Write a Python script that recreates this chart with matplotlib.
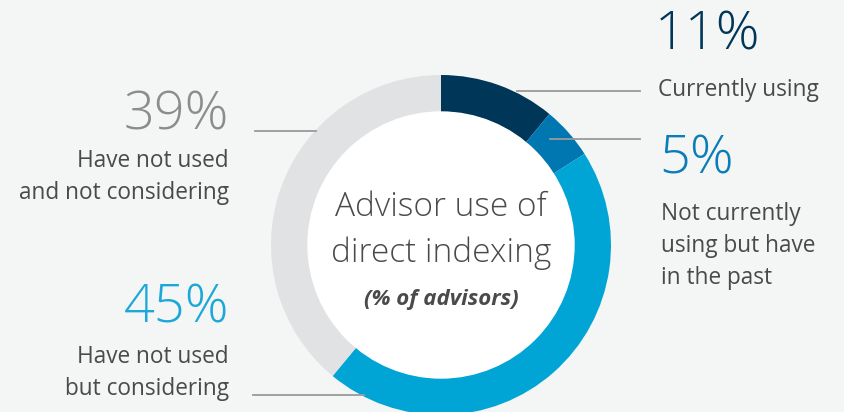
import matplotlib.pyplot as plt
from matplotlib.patches import Circle

# data
labels = ["Currently using", "Not currently\nusing but have\nin the past",
          "Have not used\nbut considering", "Have not used\nand not considering"]
shares = [11, 5, 45, 39]
colors = ["#003657", "#0077b0", "#00a5d6", "#e1e2e4"]
pct_colors = ["#003657", "#0a7cb8", "#1aa7d9", "#8c8c8c"]

W, H = 844, 412
bg = "#f4f5f5"
txt = "#4a4a4a"

fig = plt.figure(figsize=(W / 100, H / 100), dpi=100)
fig.patch.set_facecolor(bg)
ax = fig.add_axes([0, 0, 1, 1])
ax.set_facecolor(bg)

cx, cy = 441, H - 245
ax.pie(shares, colors=colors, startangle=90, counterclock=False,
       radius=170, center=(cx, cy), wedgeprops=dict(width=37, linewidth=0))
ax.add_patch(Circle((cx, cy), 133, color="white", zorder=3))

ax.set_xlim(0, W)
ax.set_ylim(0, H)
ax.set_aspect("equal")
ax.axis("off")


def y(p):
    return H - p


# leader lines
line_kw = dict(color="#9a9a9a", lw=1.3, zorder=1)
ax.plot([517, 640], [y(91), y(91)], **line_kw)
ax.plot([550, 640], [y(139), y(139)], **line_kw)
ax.plot([255, 316], [y(131), y(131)], **line_kw)
ax.plot([253, 364], [y(395), y(395)], **line_kw)

big = dict(fontsize=39, fontweight="light", family="Open Sans")
small = dict(fontsize=16.3, color=txt, family="Open Sans", linespacing=1.45)

# right side
ax.text(655, y(36), f"{shares[0]}%", color=pct_colors[0], ha="left", va="center", **big)
ax.text(658, y(90), labels[0], ha="left", va="center", **small)
ax.text(659, y(160), f"{shares[1]}%", color=pct_colors[1], ha="left", va="center", **big)
ax.text(661, y(246), labels[1], ha="left", va="center", **small)

# left side
ax.text(229, y(116), f"{shares[3]}%", color=pct_colors[3], ha="right", va="center", **big)
ax.text(229, y(177), labels[3], ha="right", va="center", **small)
ax.text(229, y(309), f"{shares[2]}%", color=pct_colors[2], ha="right", va="center", **big)
ax.text(229, y(373), labels[2], ha="right", va="center", **small)

# center
ax.text(cx, y(207), "Advisor use of", ha="center", va="center", fontsize=24,
        color=txt, family="Open Sans", fontweight="light", zorder=4)
ax.text(cx, y(253), "direct indexing", ha="center", va="center", fontsize=24,
        color=txt, family="Open Sans", fontweight="light", zorder=4)
ax.text(cx, y(300), "(% of advisors)", ha="center", va="center", fontsize=16,
        color=txt, family="Open Sans", fontweight="bold", style="italic", zorder=4)

fig.savefig("out.png", dpi=100, facecolor=bg)
